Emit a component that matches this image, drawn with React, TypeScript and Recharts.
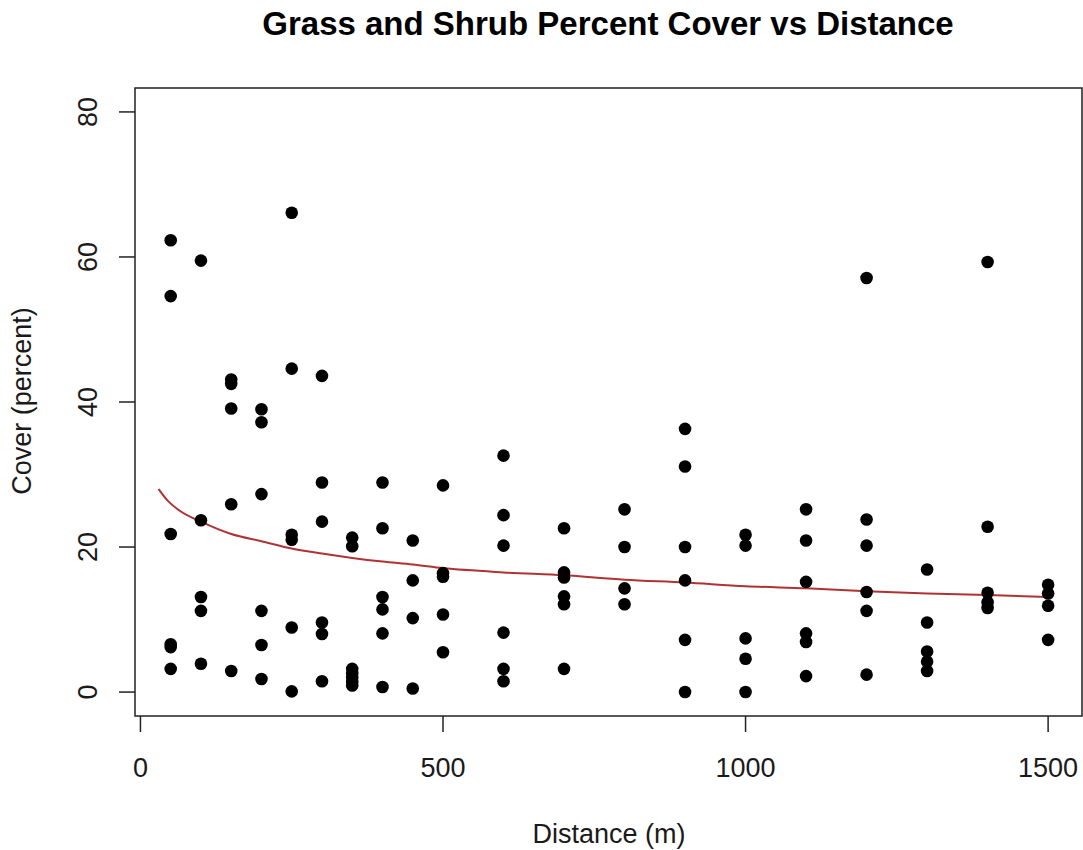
import React from "react";
import {
  ComposedChart,
  Scatter,
  Line,
  XAxis,
  YAxis,
  ReferenceArea,
} from "recharts";

// sampling distances (m) and the cover readings taken at each one
const distance = [50, 100, 150, 200, 250, 300, 350, 400, 450, 500, 600, 700, 800, 900, 1000, 1100, 1200, 1300, 1400, 1500];
const coverAt = [
  [62.3, 54.6, 21.8, 6.6, 6.2, 3.2],
  [59.5, 23.7, 13.1, 11.2, 3.9],
  [43.1, 42.5, 39.1, 25.9, 2.9],
  [39.0, 37.2, 27.3, 11.2, 6.5, 1.8],
  [66.1, 44.6, 21.7, 21.0, 8.9, 0.1],
  [43.6, 28.9, 23.5, 9.6, 8.0, 1.5],
  [21.3, 20.1, 3.2, 2.6, 2.0, 1.4, 0.9],
  [28.9, 22.6, 13.1, 11.4, 8.1, 0.7],
  [20.9, 15.4, 10.2, 0.5],
  [28.5, 16.4, 15.9, 10.7, 5.5],
  [32.6, 24.4, 20.2, 8.2, 3.2, 1.5],
  [22.6, 16.5, 15.8, 13.2, 12.1, 3.2],
  [25.2, 20.0, 14.3, 12.1],
  [36.3, 31.1, 20.0, 15.4, 7.2, 0.0],
  [21.7, 20.2, 7.4, 4.6, 0.0],
  [25.2, 20.9, 15.2, 8.1, 6.9, 2.2],
  [57.1, 23.8, 20.2, 13.8, 11.2, 2.4],
  [16.9, 9.6, 5.6, 4.2, 2.9],
  [59.3, 22.8, 13.7, 12.4, 11.6],
  [14.8, 13.6, 11.9, 7.2],
];

// fitted trend (red curve)
const trendX = [30, 45, 65, 100, 150, 200, 250, 300, 350, 400, 450, 500, 600, 700, 800, 900, 1000, 1100, 1200, 1300, 1400, 1500];
const trendY = [28.0, 26.4, 25.0, 23.5, 21.8, 20.8, 19.8, 19.1, 18.5, 18.0, 17.6, 17.1, 16.5, 16.1, 15.5, 15.1, 14.6, 14.3, 13.9, 13.6, 13.4, 13.1];

const xTicks = [0, 500, 1000, 1500];
const yTicks = [0, 20, 40, 60, 80];
const xDomain = [-9, 1556];
const yDomain = [-3.3, 83.3];

const points = distance.flatMap((d, i) => coverAt[i].map((c) => ({ x: d, y: c })));
const trend = trendX.map((x, i) => ({ x, y: trendY[i] }));

const FONT = '"Liberation Sans", Arial, sans-serif';
const INK = "#1a1a1a";

function XTick({ x, y, payload }: any) {
  return (
    <text x={x} y={y + 45} textAnchor="middle" fontSize={27} fontFamily={FONT} fill={INK}>
      {payload.value}
    </text>
  );
}

function YTick({ x, y, payload }: any) {
  return (
    <text
      transform={`translate(${x - 22.5},${y}) rotate(-90)`}
      textAnchor="middle"
      fontSize={27}
      fontFamily={FONT}
      fill={INK}
    >
      {payload.value}
    </text>
  );
}

const Dot = (p: any) => <circle cx={p.cx} cy={p.cy} r={6.3} fill="#000" />;

export default function App() {
  return (
    <div style={{ position: "absolute", left: 0, top: 0, width: 1083, height: 850, background: "#fff" }}>
      <ComposedChart width={1083} height={850} margin={{ top: 88, right: 1, bottom: 0, left: 0 }}>
        <XAxis
          type="number"
          dataKey="x"
          domain={xDomain}
          ticks={xTicks}
          allowDataOverflow
          height={134}
          axisLine={false}
          tickSize={16}
          tickMargin={0}
          tickLine={{ stroke: "#222", strokeWidth: 1.5 }}
          tick={<XTick />}
        />
        <YAxis
          type="number"
          dataKey="y"
          domain={yDomain}
          ticks={yTicks}
          allowDataOverflow
          width={135}
          axisLine={false}
          tickSize={16}
          tickMargin={0}
          tickLine={{ stroke: "#222", strokeWidth: 1.5 }}
          tick={<YTick />}
        />
        <ReferenceArea
          x1={xDomain[0]}
          x2={xDomain[1]}
          y1={yDomain[0]}
          y2={yDomain[1]}
          fill="#fff"
          fillOpacity={0}
          stroke="#222"
          strokeWidth={1.5}
          strokeOpacity={1}
          ifOverflow="visible"
        />
        <Scatter data={points} fill="#000" shape={Dot} isAnimationActive={false} />
        <Line
          data={trend}
          dataKey="y"
          type="monotone"
          stroke="#b03232"
          strokeWidth={2}
          dot={false}
          activeDot={false}
          isAnimationActive={false}
        />
      </ComposedChart>
      <svg width={1083} height={850} style={{ position: "absolute", left: 0, top: 0, pointerEvents: "none" }}>
        <text x={608} y={35} textAnchor="middle" fontSize={33} fontWeight="bold" fontFamily={FONT} fill="#000">
          Grass and Shrub Percent Cover vs Distance
        </text>
        <text x={609} y={843} textAnchor="middle" fontSize={27} fontFamily={FONT} fill={INK}>
          Distance (m)
        </text>
        <text transform="translate(31,401) rotate(-90)" textAnchor="middle" fontSize={27} fontFamily={FONT} fill={INK}>
          Cover (percent)
        </text>
      </svg>
    </div>
  );
}
